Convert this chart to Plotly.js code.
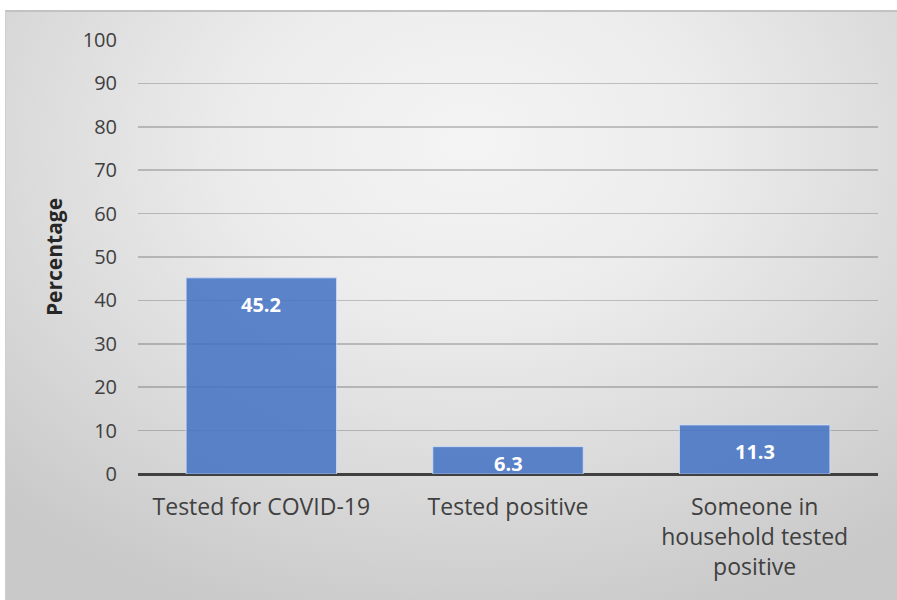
<!DOCTYPE html>
<html>
<head>
<meta charset="utf-8">
<script src="https://cdn.plot.ly/plotly-3.0.1.min.js"></script>
<style>
  html, body { margin: 0; padding: 0; background: #ffffff; }
  #wrap { position: relative; width: 897px; height: 600px; overflow: hidden; }
  #bg { position: absolute; left: 5px; top: 10px; width: 892px; height: 590px;
        box-sizing: border-box; border-top: 2px solid #c2c2c2; border-left: 1px solid #cfcfcf;
        background: radial-gradient(ellipse 75% 85% at 52% 22%, #f4f4f4 0%, #ececec 35%, #dcdcdc 65%, #c9c9c9 100%); }
  #chart { position: absolute; left: 0; top: 0; width: 897px; height: 600px; }
</style>
</head>
<body>
<div id="wrap">
  <div id="bg"></div>
  <div id="chart"></div>
</div>
<script>
const categories = ["Tested for COVID-19", "Tested positive", "Someone in<br>household tested<br>positive"];
const values = [45.2, 6.3, 11.3];
const valueLabels = ["45.2", "6.3", "11.3"];
const yTicks = [0, 10, 20, 30, 40, 50, 60, 70, 80, 90, 100];

const FONT = "'Open Sans', 'Noto Sans', sans-serif";

const trace = {
  type: "bar",
  x: categories,
  y: values,
  marker: { color: "rgba(68,114,196,0.86)", line: { color: "rgba(210,225,250,0.8)", width: 1 } },
  hoverinfo: "none"
};

// Data labels placed "inside end" of each bar (kept inside the bar for short bars)
const labelAnnotations = categories.map((c, i) => ({
  x: c,
  y: Math.max(values[i], 8.6),
  xref: "x",
  yref: "y",
  yanchor: "top",
  yshift: -11,
  text: valueLabels[i],
  showarrow: false,
  font: { family: FONT, size: 20, color: "#ffffff", weight: "bold" }
}));

const layout = {
  width: 897,
  height: 600,
  margin: { l: 138, r: 19, t: 40, b: 126 },
  paper_bgcolor: "rgba(0,0,0,0)",
  plot_bgcolor: "rgba(0,0,0,0)",
  bargap: 0.39,
  showlegend: false,
  font: { family: FONT, color: "#404040" },
  annotations: labelAnnotations,
  xaxis: {
    type: "category",
    showgrid: false,
    showline: false,
    zeroline: false,
    ticks: "",
    ticklabelstandoff: 17,
    tickfont: { family: FONT, size: 23, color: "#404040" }
  },
  yaxis: {
    range: [0, 100],
    tickvals: yTicks,
    ticktext: yTicks.map(String),
    showgrid: true,
    gridcolor: "rgba(0,0,0,0.2)",
    gridwidth: 1.5,
    zeroline: true,
    zerolinecolor: "#404040",
    zerolinewidth: 3,
    showline: false,
    ticks: "",
    ticklabelstandoff: 20,
    tickfont: { family: FONT, size: 20, color: "#404040" },
    title: { text: "Percentage", font: { family: FONT, size: 21, color: "#262626", weight: "bold" }, standoff: 14 }
  }
};

Plotly.newPlot("chart", [trace], layout, { displayModeBar: false, staticPlot: true });
</script>
</body>
</html>
